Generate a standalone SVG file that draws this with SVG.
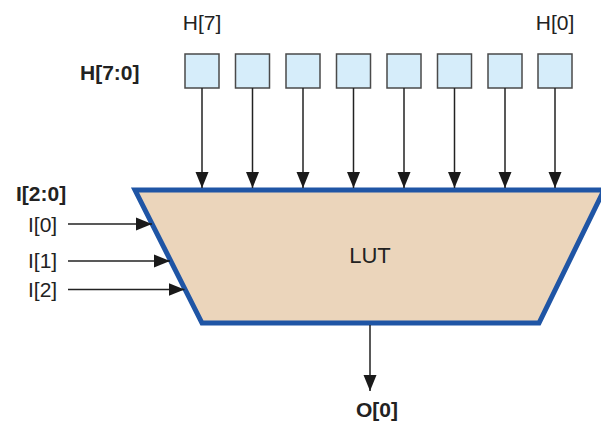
<svg xmlns="http://www.w3.org/2000/svg" width="601" height="421" viewBox="0 0 601 421">
<defs>
<style>
.t{font-family:"Liberation Sans",Arial,sans-serif;font-size:21px;fill:#222}
.b{font-weight:bold}
.box{fill:#d6edfa;stroke:#4a4a4a;stroke-width:1.5}
.w{stroke:#222;stroke-width:1.5;fill:none;marker-end:url(#ah)}
</style>
<marker id="ah" markerUnits="userSpaceOnUse" markerWidth="16" markerHeight="14" viewBox="0 0 16 14" refX="16" refY="7" orient="auto">
<path d="M0,0.5 L16,7 L0,13.5 Z" fill="#1a1a1a"/>
</marker>
</defs>
<rect width="601" height="421" fill="#fff"/>
<g id="lut">
<polygon points="135,190 604,190 539,323 202,323" fill="#ebd5bb" stroke="#1f55a5" stroke-width="5" stroke-linejoin="miter"/>
<text class="t" x="370" y="263" text-anchor="middle" style="font-size:22px">LUT</text>
</g>
<g id="h-inputs">
<rect id="h7" class="box" x="185" y="54" width="34" height="34"/>
<rect id="h6" class="box" x="235.5" y="54" width="34" height="34"/>
<rect id="h5" class="box" x="286" y="54" width="34" height="34"/>
<rect id="h4" class="box" x="336.5" y="54" width="34" height="34"/>
<rect id="h3" class="box" x="387" y="54" width="34" height="34"/>
<rect id="h2" class="box" x="437.5" y="54" width="34" height="34"/>
<rect id="h1" class="box" x="488" y="54" width="34" height="34"/>
<rect id="h0" class="box" x="538" y="54" width="34" height="34"/>
</g>
<g id="connectors">
<line class="w" x1="202" y1="88" x2="202" y2="188"/>
<line class="w" x1="252.5" y1="88" x2="252.5" y2="188"/>
<line class="w" x1="303" y1="88" x2="303" y2="188"/>
<line class="w" x1="353.5" y1="88" x2="353.5" y2="188"/>
<line class="w" x1="404" y1="88" x2="404" y2="188"/>
<line class="w" x1="454.5" y1="88" x2="454.5" y2="188"/>
<line class="w" x1="505" y1="88" x2="505" y2="188"/>
<line class="w" x1="555" y1="88" x2="555" y2="188"/>
<line class="w" x1="68" y1="224" x2="152" y2="224"/>
<line class="w" x1="68" y1="261" x2="170" y2="261"/>
<line class="w" x1="68" y1="289.5" x2="184.5" y2="289.5"/>
<line class="w" x1="370" y1="325" x2="370" y2="391"/>
</g>
<g id="labels">
<text class="t" x="202" y="30" text-anchor="middle">H[7]</text>
<text class="t" x="555" y="30" text-anchor="middle">H[0]</text>
<text class="t b" x="80" y="80">H[7:0]</text>
<text class="t b" x="16" y="201">I[2:0]</text>
<text class="t" x="28" y="232">I[0]</text>
<text class="t" x="28" y="268">I[1]</text>
<text class="t" x="28" y="297">I[2]</text>
<text class="t b" x="377" y="417" text-anchor="middle">O[0]</text>
</g>
</svg>
